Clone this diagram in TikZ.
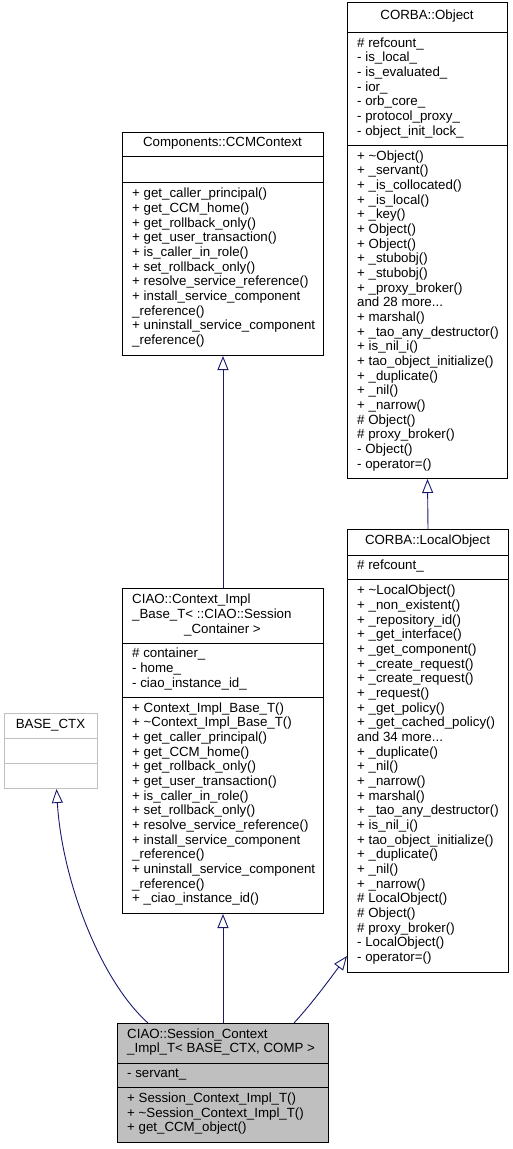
\documentclass[tikz,border=0pt]{standalone}
\usepackage{fontspec}
\setmainfont{Liberation Sans}
\usetikzlibrary{arrows.meta}
\definecolor{edgeblue}{HTML}{191970}
\definecolor{classgray}{HTML}{BFBFBF}
\tikzset{
  cls/.style={draw=black, line width=1pt, inner sep=0pt, anchor=north west},
  sep/.style={draw=black, line width=1pt},
  inh/.style={draw=edgeblue, line width=0.9pt, -{Triangle[length=14pt,width=11pt,fill=white]}},
  txt/.style={font=\fontsize{13.3}{14.67}\selectfont, inner sep=0pt, align=left,
    execute at begin node=\strut, execute at end node=\strut},
  ttl/.style={txt, anchor=center},
  mem/.style={txt, anchor=west},
}

\begin{document}
\begin{tikzpicture}[x=1pt, y=-1pt]
  \useasboundingbox (0,0) rectangle (512,1149);
  % CORBA::Object
  \node[cls, minimum width=160, minimum height=476] (obj) at (347,2) {};
  \draw[sep] (obj.west |- 0,32) -- (obj.east |- 0,32);
  \draw[sep] (obj.west |- 0,145) -- (obj.east |- 0,145);
  \node[ttl] (objt) at (427,17) {CORBA::Object};
  \node[mem] (obja) at (357,88.5) {\# refcount\_\\- is\_local\_\\- is\_evaluated\_\\- ior\_\\- orb\_core\_\\- protocol\_proxy\_\\- object\_init\_lock\_};
  \node[mem] (objm) at (357,311.5) {+ \textasciitilde Object()\\+ \_servant()\\+ \_is\_collocated()\\+ \_is\_local()\\+ \_key()\\+ Object()\\+ Object()\\+ \_stubobj()\\+ \_stubobj()\\+ \_proxy\_broker()\\and 28 more...\\+ marshal()\\+ \_tao\_any\_destructor()\\+ is\_nil\_i()\\+ tao\_object\_initialize()\\+ \_duplicate()\\+ \_nil()\\+ \_narrow()\\\# Object()\\\# proxy\_broker()\\- Object()\\- operator=()};
  % CORBA::LocalObject
  \node[cls, minimum width=161, minimum height=443] (lobj) at (347,529) {};
  \draw[sep] (lobj.west |- 0,555) -- (lobj.east |- 0,555);
  \draw[sep] (lobj.west |- 0,579) -- (lobj.east |- 0,579);
  \node[ttl] (lobjt) at (427.5,542) {CORBA::LocalObject};
  \node[mem] (lobja) at (357,567) {\# refcount\_};
  \node[mem] (lobjm) at (357,775.5) {+ \textasciitilde LocalObject()\\+ \_non\_existent()\\+ \_repository\_id()\\+ \_get\_interface()\\+ \_get\_component()\\+ \_create\_request()\\+ \_create\_request()\\+ \_request()\\+ \_get\_policy()\\+ \_get\_cached\_policy()\\and 34 more...\\+ \_duplicate()\\+ \_nil()\\+ \_narrow()\\+ marshal()\\+ \_tao\_any\_destructor()\\+ is\_nil\_i()\\+ tao\_object\_initialize()\\+ \_duplicate()\\+ \_nil()\\+ \_narrow()\\\# LocalObject()\\\# Object()\\\# proxy\_broker()\\- LocalObject()\\- operator=()};
  % Components::CCMContext
  \node[cls, minimum width=201, minimum height=223] (ccm) at (122,132) {};
  \draw[sep] (ccm.west |- 0,156) -- (ccm.east |- 0,156);
  \draw[sep] (ccm.west |- 0,182) -- (ccm.east |- 0,182);
  \node[ttl] (ccmt) at (222.5,144) {Components::CCMContext};
  \node[mem] (ccmm) at (132,268.5) {+ get\_caller\_principal()\\+ get\_CCM\_home()\\+ get\_rollback\_only()\\+ get\_user\_transaction()\\+ is\_caller\_in\_role()\\+ set\_rollback\_only()\\+ resolve\_service\_reference()\\+ install\_service\_component\\\_reference()\\+ uninstall\_service\_component\\\_reference()};
  % CIAO::Context_Impl_Base_T
  \node[cls, minimum width=201, minimum height=325] (cib) at (122,588) {};
  \draw[sep] (cib.west |- 0,643) -- (cib.east |- 0,643);
  \draw[sep] (cib.west |- 0,697) -- (cib.east |- 0,697);
  \node[txt, anchor=north west] (cibt) at (132,593.5) {CIAO::Context\_Impl\\\_Base\_T< ::CIAO::Session};
  \node[txt, anchor=base] (cibc) at (222.5,633.1) {\_Container >};
  \node[mem] (ciba) at (132,670) {\# container\_\\- home\_\\- ciao\_instance\_id\_};
  \node[mem] (cibm) at (132,805) {+ Context\_Impl\_Base\_T()\\+ \textasciitilde Context\_Impl\_Base\_T()\\+ get\_caller\_principal()\\+ get\_CCM\_home()\\+ get\_rollback\_only()\\+ get\_user\_transaction()\\+ is\_caller\_in\_role()\\+ set\_rollback\_only()\\+ resolve\_service\_reference()\\+ install\_service\_component\\\_reference()\\+ uninstall\_service\_component\\\_reference()\\+ \_ciao\_instance\_id()};
  % BASE_CTX
  \node[cls, draw=classgray, minimum width=93, minimum height=75] (basectx) at (4,713) {};
  \draw[sep, draw=classgray] (basectx.west |- 0,738) -- (basectx.east |- 0,738);
  \draw[sep, draw=classgray] (basectx.west |- 0,763) -- (basectx.east |- 0,763);
  \node[ttl] (basectxt) at (50.5,725.5) {BASE\_CTX};
  % CIAO::Session_Context_Impl_T
  \node[cls, fill=classgray, minimum width=211, minimum height=119] (sess) at (117,1023) {};
  \draw[sep] (sess.west |- 0,1063) -- (sess.east |- 0,1063);
  \draw[sep] (sess.west |- 0,1087) -- (sess.east |- 0,1087);
  \node[mem] (sesst) at (127,1043) {CIAO::Session\_Context\\\_Impl\_T< BASE\_CTX, COMP >};
  \node[mem] (sessa) at (127,1075) {- servant\_};
  \node[mem] (sessm) at (127,1114.5) {+ Session\_Context\_Impl\_T()\\+ \textasciitilde Session\_Context\_Impl\_T()\\+ get\_CCM\_object()};
  % inheritance
  \draw[inh] (lobj.north) -- (obj.south);
  \draw[inh] (cib.north) -- (ccm.south);
  \draw[inh] (sess.north) -- (cib.south);
  \draw[inh] ([xshift=31]sess.north west) .. controls (100,980) and (62,880) .. ([xshift=5.5]basectx.south);
  \draw[inh] ([xshift=-35]sess.north east) .. controls (315,1000) and (335,972) .. ([yshift=17]lobj.south west);
\end{tikzpicture}
\end{document}
